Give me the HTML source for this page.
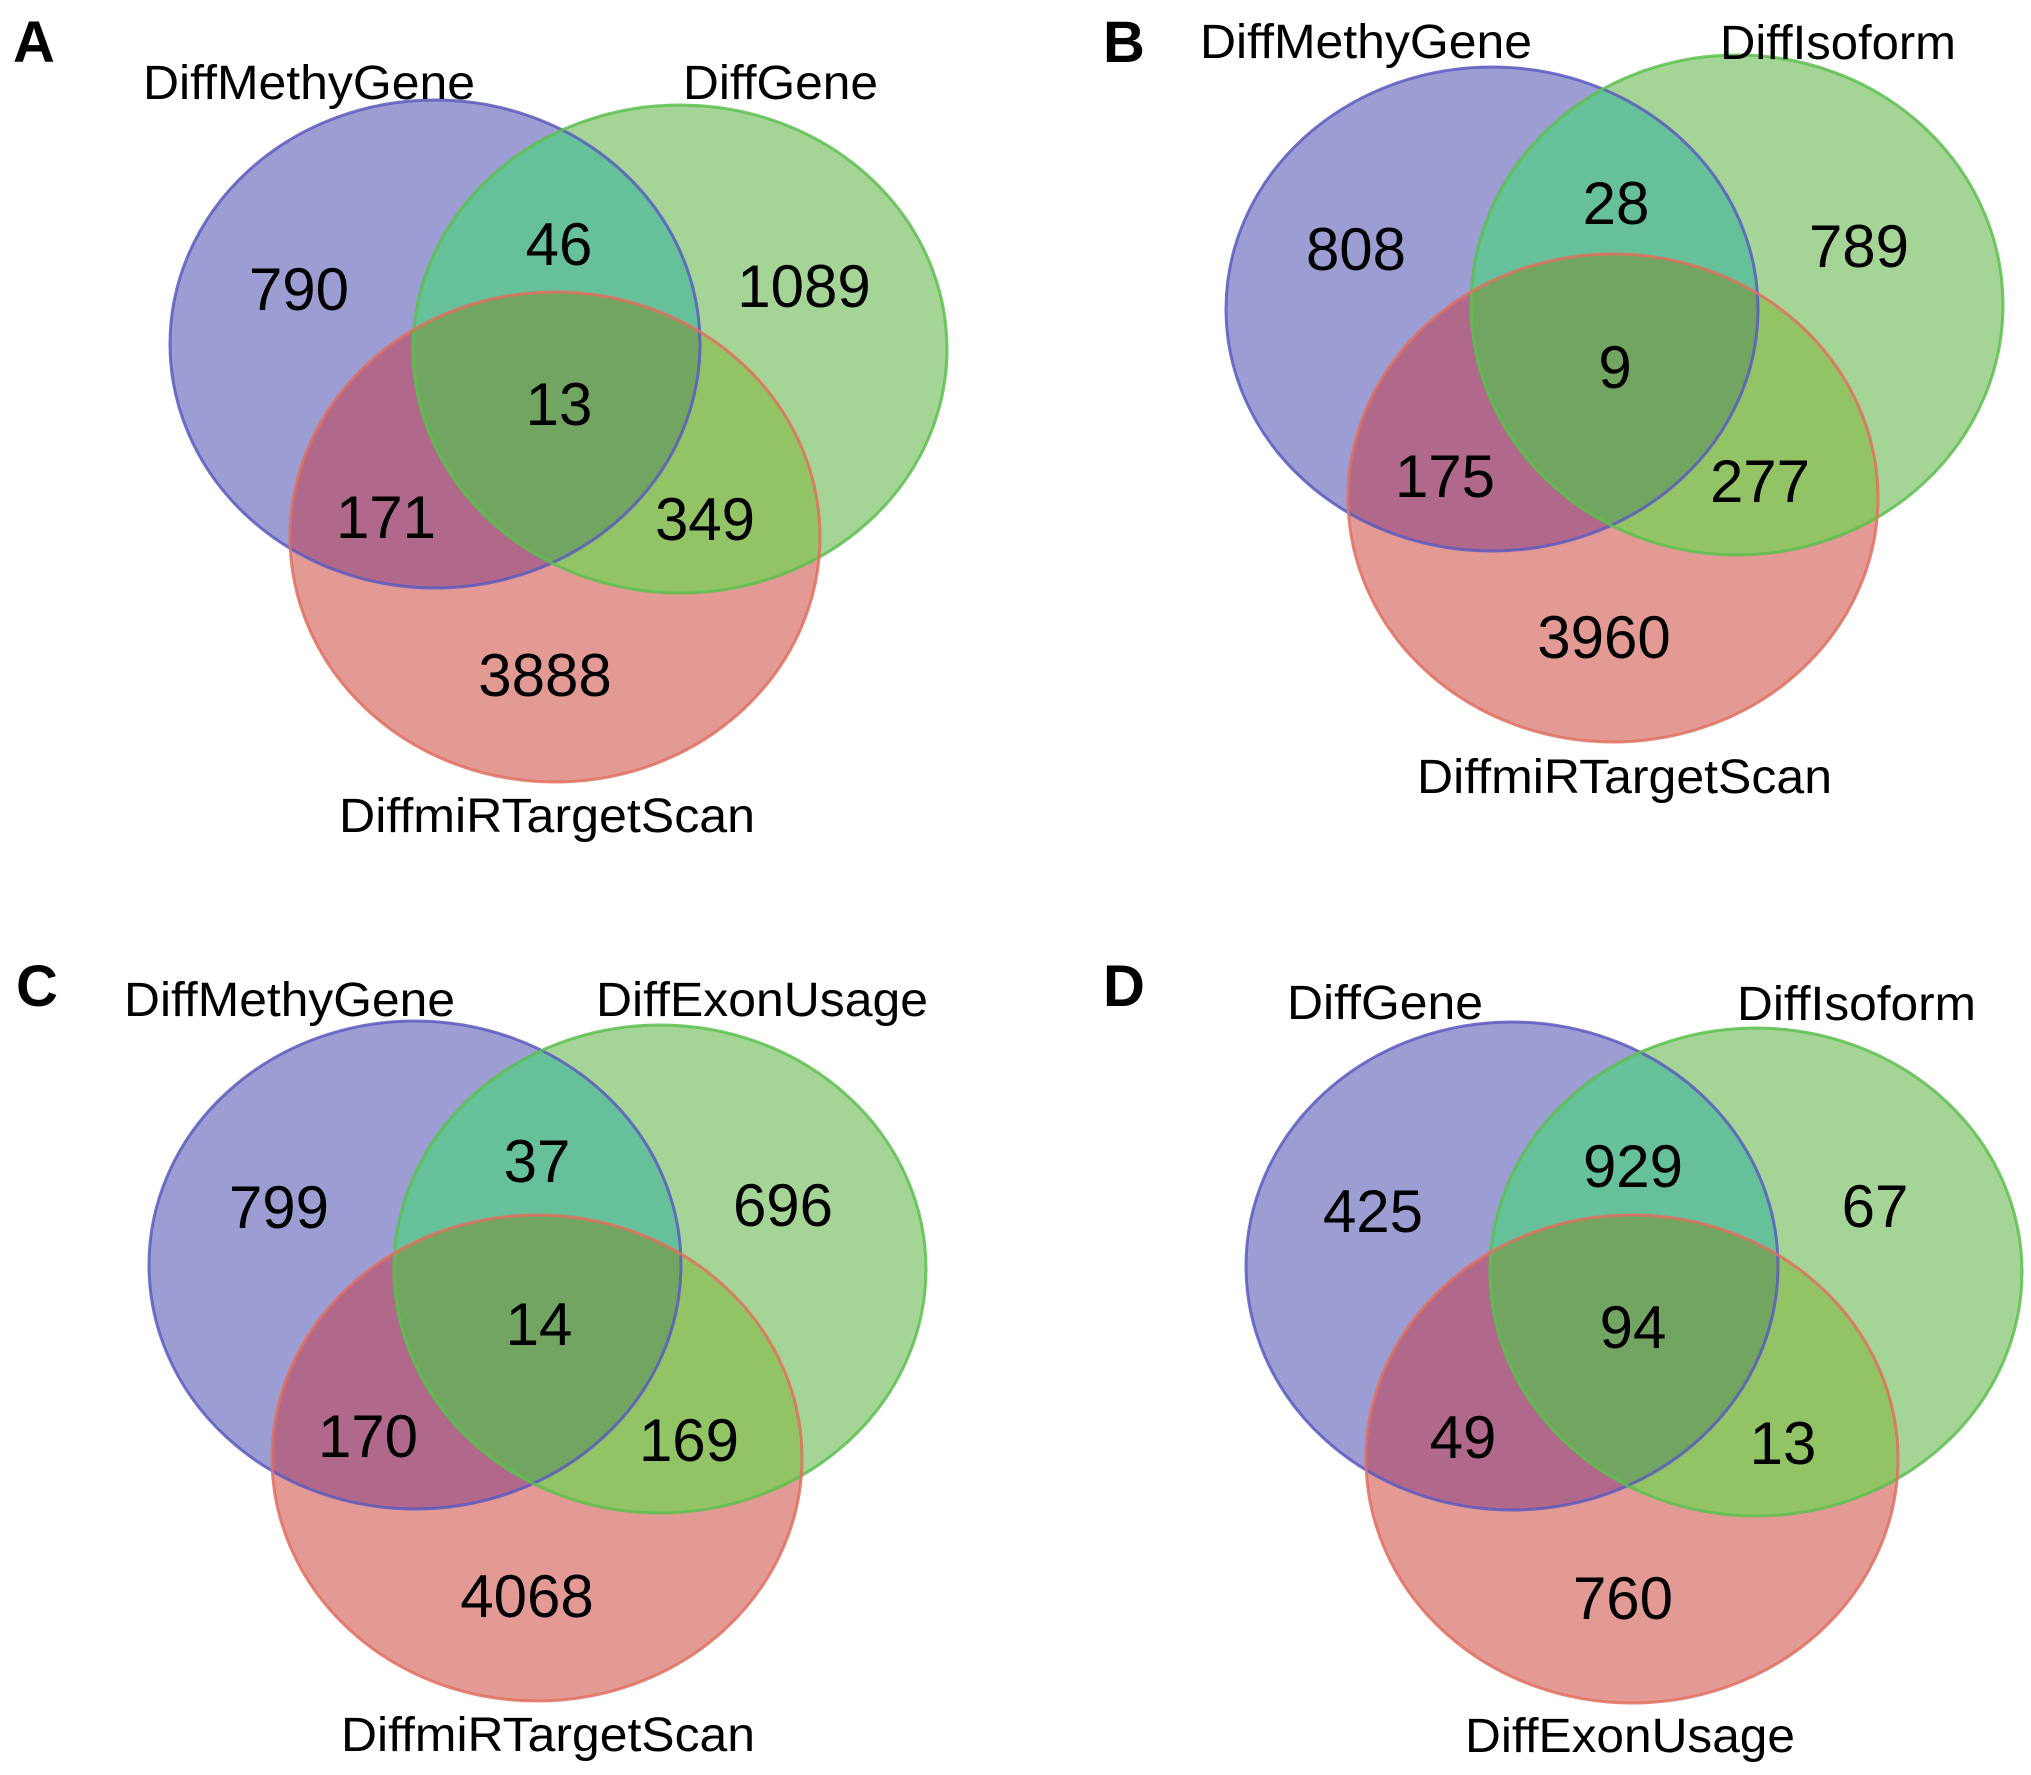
<!DOCTYPE html>
<html><head><meta charset="utf-8"><style>
html,body{margin:0;padding:0;background:#fff}
svg{display:block}
text{font-family:"Liberation Sans",Arial,sans-serif;fill:#000}
</style></head><body>
<svg id="fig" width="2031" height="1775" viewBox="0 0 2031 1775" xmlns="http://www.w3.org/2000/svg"></svg>
<script>
// ---- data ----
const panelLetters = ["A","B","C","D"];
const setNamesA = ["DiffMethyGene","DiffGene","DiffmiRTargetScan"];
const setNamesB = ["DiffMethyGene","DiffIsoform","DiffmiRTargetScan"];
const setNamesC = ["DiffMethyGene","DiffExonUsage","DiffmiRTargetScan"];
const setNamesD = ["DiffGene","DiffIsoform","DiffExonUsage"];
// region counts: [only1, 1&2, only2, all, 1&3, 2&3, only3]
const countsA = [790,46,1089,13,171,349,3888];
const countsB = [808,28,789,9,175,277,3960];
const countsC = [799,37,696,14,170,169,4068];
const countsD = [425,929,67,94,49,13,760];
const regionKeys = ["only-1","1-and-2","only-2","all-three","1-and-3","2-and-3","only-3"];

// ---- layout ----
const layouts = [
 {letter:[13,62], e:[[435,344,265,244],[680,349,267,244],[555,537,265,245]],
  labels:[[143,99,332],[683,99,195],[339,832,416]],
  nums:[[299,310],[559,265],[804,307],[559,425],[386,538],[705,540],[545,696]]},
 {letter:[1103,62], e:[[1492,309,266,242],[1737,305,266,250],[1613,498,265,244]],
  labels:[[1200,58,332],[1720,59,236],[1417,793,415]],
  nums:[[1356,270],[1616,224],[1859,267],[1615,388],[1445,497],[1760,502],[1604,658]]},
 {letter:[16,1006], e:[[415,1265,266,244],[660,1269,266,244],[537,1458,265,243]],
  labels:[[124,1016,331],[596,1016,332],[341,1751,414]],
  nums:[[279,1228],[537,1182],[783,1226],[539,1345],[368,1457],[689,1461],[527,1617]]},
 {letter:[1103,1006], e:[[1512,1266,266,244],[1756,1272,266,244],[1632,1459,266,244]],
  labels:[[1287,1019,196],[1737,1020,239],[1465,1752,330]],
  nums:[[1373,1232],[1633,1187],[1875,1227],[1633,1348],[1463,1458],[1783,1464],[1623,1619]]}
];
const allNames=[setNamesA,setNamesB,setNamesC,setNamesD];
const allCounts=[countsA,countsB,countsC,countsD];
const fills={c1:"#9c9dd2",c2:"#a4d596",c3:"#e49a94",c12:"#66c19a",c13:"#b0698b",c23:"#92c465",c123:"#72a561"};
const strokes=["#5b5bbf","#5cc04f","#e0705f"];

const NS="http://www.w3.org/2000/svg";
const svg=document.getElementById('fig');
function mk(tag,attrs,parent){const el=document.createElementNS(NS,tag);for(const k in attrs)el.setAttribute(k,attrs[k]);(parent||svg).appendChild(el);return el;}
const defs=mk('defs',{});

layouts.forEach((L,p)=>{
  const g=mk('g',{});
  
  
  const id=i=>'clip'+p+'_'+i;
  L.e.forEach((e,i)=>{
    const cp=mk('clipPath',{id:id(i)},defs);
    mk('ellipse',{cx:e[0],cy:e[1],rx:e[2],ry:e[3]},cp);
  });
  const g23=mk('clipPath',{id:id('23')},defs);
  mk('ellipse',{cx:L.e[1][0],cy:L.e[1][1],rx:L.e[1][2],ry:L.e[1][3],'clip-path':'url(#'+id(2)+')'},g23);
  const ell=(i,fill,clip,name)=>{
    const e=L.e[i];
    const el=mk('ellipse',{cx:e[0],cy:e[1],rx:e[2],ry:e[3],fill:fill},g);
    if(clip) el.setAttribute('clip-path','url(#'+clip+')');
    
    
  };
  ell(0,fills.c1,null,'set-1-circle');
  ell(1,fills.c2,null,'set-2-circle');
  ell(2,fills.c3,null,'set-3-circle');
  ell(0,fills.c12,id(1),'overlap-1-2');
  ell(0,fills.c13,id(2),'overlap-1-3');
  ell(1,fills.c23,id(2),'overlap-2-3');
  ell(0,fills.c123,id('23'),'overlap-all');
  L.e.forEach((e,i)=>{
    const el=mk('ellipse',{cx:e[0],cy:e[1],rx:e[2],ry:e[3],fill:'none',stroke:strokes[i],'stroke-width':3,'stroke-opacity':0.85},g);
    
    
  });
  const lt=mk('text',{x:L.letter[0],y:L.letter[1],'font-size':58,'font-weight':'bold'},g);
  lt.textContent=panelLetters[p];
  
  
  allNames[p].forEach((n,i)=>{
    const lb=L.labels[i];
    const t=mk('text',{x:lb[0],y:lb[1],'font-size':48,textLength:lb[2],lengthAdjust:'spacingAndGlyphs'},g);
    t.textContent=n;
    
    
  });
  allCounts[p].forEach((v,i)=>{
    const n=L.nums[i];
    const t=mk('text',{x:n[0],y:n[1],'font-size':60,'text-anchor':'middle'},g);
    t.textContent=String(v);
    
    
  });
});
</script>
</body></html>
